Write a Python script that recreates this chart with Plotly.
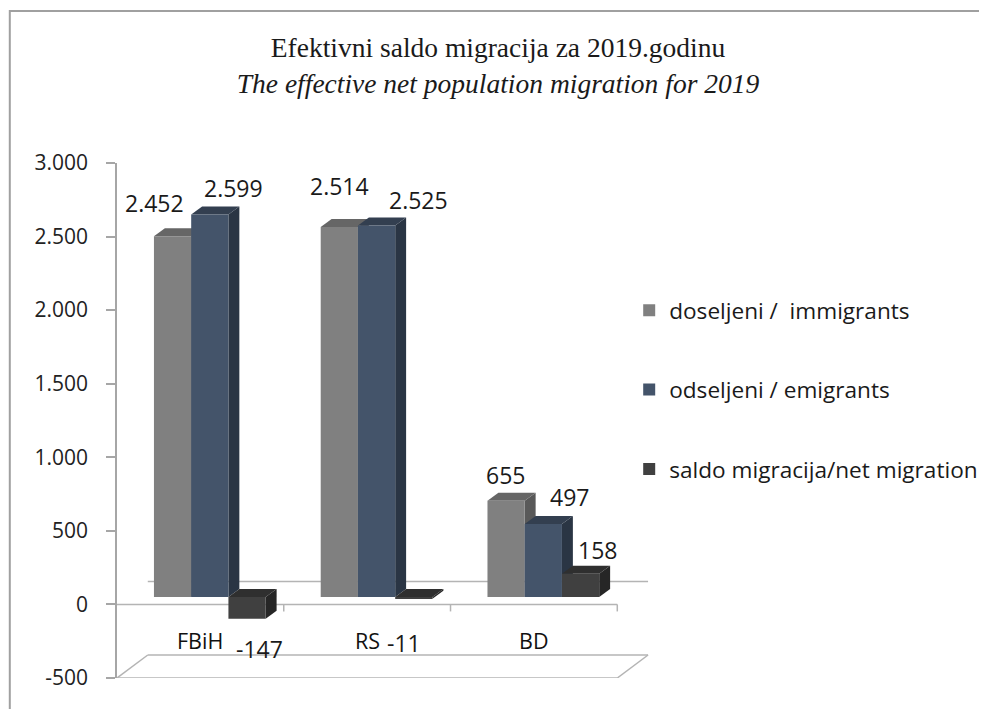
import plotly.graph_objects as go

# ---------------- data ----------------
categories = ["FBiH", "RS", "BD"]
series_names = ["doseljeni /  immigrants", "odseljeni / emigrants", "saldo migracija/net migration"]
immigrants = [2452, 2514, 655]
emigrants = [2599, 2525, 497]
net_migration = [-147, -11, 158]
y_tickvals = [-500, 0, 500, 1000, 1500, 2000, 2500, 3000]
y_ticktext = ["-500", "0", "500", "1.000", "1.500", "2.000", "2.500", "3.000"]
title_line1 = "Efektivni saldo migracija za 2019.godinu"
title_line2 = "The effective net population migration for 2019"

series_values = [immigrants, emigrants, net_migration]

# ---------------- styles ----------------
front_colors = ["#808080", "#44546A", "#404040"]
side_colors = ["#595959", "#2a3544", "#262626"]
top_colors = ["#666666", "#333f50", "#2f2f2f"]
# data label offsets in pixels (right, down) per series / category
label_dx = [[-18, 0, -1], [24, 42, 26], [12, -10, 17]]
label_dy = [[-33, -41, -26], [-27, -25, -27], [30, 44, -24]]

OFF = 8                      # page body margin offset
W, H = 987, 709
ml, mt = 117 - OFF, 163 - OFF
mr = W - (660 - OFF)
mb = H - (678 - OFF)
pw, ph = W - ml - mr, H - mt - mb
px_x = 168.0                      # pixels per category unit
y_min, y_max = -500, 3000
px_y = ph / (y_max - y_min)       # pixels per value unit
x_range = [-0.5, -0.5 + pw / px_x]


def page_y_to_val(py):
    return y_max - (py - OFF - mt) / px_y


bar_shift_x = 9.5 / px_x
bar_shift_y = 7.4 / px_y
x2_range = [x_range[0] - bar_shift_x, x_range[1] - bar_shift_x]
y2_range = [y_min - bar_shift_y, y_max - bar_shift_y]

bargap = 0.33
n_series = len(series_values)
bw = (1 - bargap) / n_series
ddx = 11 / px_x   # bar depth (x) in units
ddy = 8 / px_y    # bar depth (y) in units

font_main = "Open Sans, Noto Sans, sans-serif"

fig = go.Figure()
xs = list(range(len(categories)))
for i, (name, vals) in enumerate(zip(series_names, series_values)):
    fig.add_trace(go.Bar(
        x=xs, y=vals, name=name, xaxis="x2", yaxis="y2",
        marker=dict(color=front_colors[i], line=dict(width=0)),
        legendgroup=f"g{i}", hoverinfo="y",
    ))

shapes = []
# floor / base decorations (primary axes)
fdx = 31 / px_x
fdy = 23 / px_y
floor_col = "#b4b4b4"
nc = len(categories)
xl0, xr0 = -0.5, nc - 0.5
line = dict(color=floor_col, width=1.5)
shapes += [
    dict(type="line", xref="x", yref="y", x0=xl0, x1=xr0, y0=0, y1=0, line=line, layer="below"),
    dict(type="line", xref="x", yref="y", x0=xl0 + fdx, x1=xr0 + fdx, y0=fdy, y1=fdy, line=line, layer="below"),
    dict(type="line", xref="x", yref="y", x0=xl0, x1=xr0, y0=y_min, y1=y_min, line=line, layer="below"),
    dict(type="line", xref="x", yref="y", x0=xl0 + fdx, x1=xr0 + fdx, y0=y_min + fdy, y1=y_min + fdy, line=line, layer="below"),
    dict(type="line", xref="x", yref="y", x0=xl0, x1=xl0 + fdx, y0=y_min, y1=y_min + fdy, line=line, layer="below"),
    dict(type="line", xref="x", yref="y", x0=xr0, x1=xr0 + fdx, y0=y_min, y1=y_min + fdy, line=line, layer="below"),
]
for k in range(nc):
    shapes.append(dict(type="line", xref="x", yref="y", ysizemode="pixel", yanchor=0,
                       x0=k + 0.5, x1=k + 0.5, y0=0, y1=-7, line=line, layer="below"))

# 3D faces of the bars (secondary axes), built from the data
for j in range(nc):
    for i, vals in enumerate(series_values):
        v = vals[j]
        cx = j + (i - (n_series - 1) / 2) * bw
        xl, xr = cx - bw / 2, cx + bw / 2
        side = f"M{xr},0 L{xr},{v} L{xr + ddx},{v + ddy} L{xr + ddx},{ddy} Z"
        tv = max(v, 0)
        top = f"M{xl},{tv} L{xr},{tv} L{xr + ddx},{tv + ddy} L{xl + ddx},{tv + ddy} Z"
        for p, c in ((side, side_colors[i]), (top, top_colors[i])):
            shapes.append(dict(type="path", path=p, xref="x2", yref="y2",
                               fillcolor=c, line=dict(width=0), layer="below"))

# chart border (page coords 9, 11 -> figure coords)
bx0, by0 = 9 - OFF, 11 - OFF
shapes.append(dict(type="rect", xref="paper", yref="paper",
                   x0=(bx0 - ml) / pw, x1=(W + 20 - ml) / pw,
                   y0=(ph - (H + 20 - mt)) / ph, y1=(ph - (by0 - mt)) / ph,
                   line=dict(color="#a0a0a0", width=2), fillcolor="rgba(0,0,0,0)"))

annotations = []
for i, vals in enumerate(series_values):
    for j, v in enumerate(vals):
        cx = j + (i - (n_series - 1) / 2) * bw
        txt = f"{v:,}".replace(",", ".")
        annotations.append(dict(
            x=cx, y=v, xref="x2", yref="y2", text=txt, showarrow=False,
            xanchor="center", yanchor="middle",
            xshift=label_dx[i][j], yshift=-label_dy[i][j],
            font=dict(family=font_main, size=23, color="#1a1a1a"),
        ))
cat_label_y = page_y_to_val(640)
for j, c in enumerate(categories):
    annotations.append(dict(
        x=j, y=cat_label_y, xref="x", yref="y", text=c, showarrow=False,
        xanchor="center", yanchor="middle",
        font=dict(family=font_main, size=21.5, color="#111111"),
    ))

legend_left = 633 - OFF
legend_top = 289 - OFF

fig.update_layout(
    width=W, height=H,
    margin=dict(l=ml, r=mr, t=mt, b=mb, pad=0),
    paper_bgcolor="white", plot_bgcolor="rgba(0,0,0,0)",
    barmode="group", bargap=bargap, bargroupgap=0,
    title=dict(
        text=f"{title_line1}<br><i>{title_line2}</i>",
        x=(498 - OFF) / W, xanchor="center", xref="container",
        y=1 - 49 / H, yanchor="top", yref="container",
        font=dict(family="Liberation Serif, serif", size=27.5, color="#1a1a1a"),
    ),
    xaxis=dict(range=x_range, visible=False, fixedrange=True),
    xaxis2=dict(range=x2_range, visible=False, overlaying="x", fixedrange=True),
    yaxis=dict(
        range=[y_min, y_max], tickvals=y_tickvals, ticktext=y_ticktext,
        showgrid=False, zeroline=False, showline=True, linecolor="#a6a6a6", linewidth=1.5,
        ticks="outside", ticklen=9, tickwidth=1.5, tickcolor="#a6a6a6",
        ticklabelstandoff=14,
        tickfont=dict(family=font_main, size=21, color="#222222"),
    ),
    yaxis2=dict(range=y2_range, visible=False, overlaying="y", fixedrange=True),
    showlegend=True,
    legend=dict(
        x=(legend_left - ml) / pw, xanchor="left",
        y=(ph - (legend_top - mt)) / ph, yanchor="top",
        font=dict(family=font_main, size=22.6, color="#1a1a1a"),
        tracegroupgap=47, bgcolor="rgba(0,0,0,0)", traceorder="grouped",
    ),
    shapes=shapes,
    annotations=annotations,
)

fig.write_html("out.html")
